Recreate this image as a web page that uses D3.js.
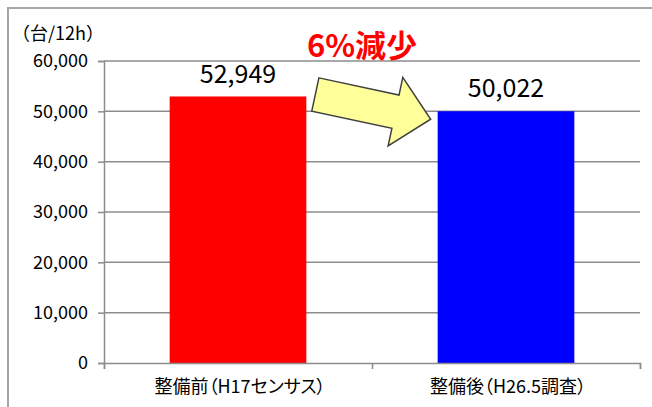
<!DOCTYPE html>
<html>
<head>
<meta charset="utf-8">
<script src="https://cdn.jsdelivr.net/npm/d3@7"></script>
<style>
  body { margin: 0; background: #fff; }
  svg text { font-family: "Noto Sans CJK JP", "Noto Sans", sans-serif; }
</style>
</head>
<body>
<div id="chart"></div>
<script>
// データ
const categories = ["整備前（H17センサス）", "整備後（H26.5調査）"];
const values = [52949, 50022];
const barColors = ["#ff0000", "#0000ff"];
const yTicks = [0, 10000, 20000, 30000, 40000, 50000, 60000];
const unitLabel = "（台/12h）";
const changeLabel = "6%減少";

const W = 652, H = 407;
const margin = { top: 61, right: 12, bottom: 44, left: 104 };
const width = W - margin.left - margin.right;
const height = H - margin.top - margin.bottom;

const svg = d3.select("#chart").append("svg")
    .attr("width", W)
    .attr("height", H);

svg.append("rect").attr("width", W).attr("height", H).attr("fill", "#fff");

// 外枠
svg.append("path")
    .attr("d", `M8,${H} L8,8 L${W},8`)
    .attr("fill", "none")
    .attr("stroke", "#a6a6a6")
    .attr("stroke-width", 2);

const g = svg.append("g").attr("transform", `translate(${margin.left},${margin.top})`);

const x = d3.scaleBand().domain(categories).range([0, width]).paddingInner(0.49).paddingOuter(0.245);
const xTicks = d3.scalePoint().domain(d3.range(categories.length + 1)).range([0, width]);
const y = d3.scaleLinear().domain([0, 60000]).range([height, 0]);

// グリッド線
g.append("g")
    .selectAll("line")
    .data(yTicks.filter(d => d > 0))
    .join("line")
    .attr("x1", 0).attr("x2", width)
    .attr("y1", d => y(d)).attr("y2", d => y(d))
    .attr("stroke", "#8c8c8c")
    .attr("stroke-width", 1.5);

// 棒
g.selectAll("rect.bar")
    .data(values)
    .join("rect")
    .attr("class", "bar")
    .attr("x", (d, i) => x(categories[i]))
    .attr("y", d => y(d))
    .attr("width", x.bandwidth())
    .attr("height", d => height - y(d))
    .attr("fill", (d, i) => barColors[i]);

// Y軸
const yAxis = g.append("g")
    .call(d3.axisLeft(y).tickValues(yTicks).tickSize(6).tickPadding(10).tickFormat(d3.format(",")));
yAxis.select(".domain").attr("stroke", "#8c8c8c").attr("stroke-width", 1.5);
yAxis.selectAll(".tick line").attr("stroke", "#8c8c8c").attr("stroke-width", 1.5);
yAxis.selectAll("text").attr("fill", "#000").style("font-size", "18px");

// X軸
const xAxis = g.append("g")
    .attr("transform", `translate(0,${height})`)
    .call(d3.axisBottom(xTicks).tickSize(6).tickFormat(""));
xAxis.select(".domain").attr("stroke", "#8c8c8c").attr("stroke-width", 1.5);
xAxis.selectAll(".tick line").attr("stroke", "#8c8c8c").attr("stroke-width", 1.5);

g.selectAll("text.cat")
    .data(categories)
    .join("text")
    .attr("class", "cat")
    .attr("x", d => x(d) + x.bandwidth() / 2 + 2)
    .attr("y", height + 30)
    .attr("text-anchor", "middle")
    .attr("fill", "#000")
    .style("font-size", "18px")
    .style("font-feature-settings", "'palt'")
    .text(d => d);

// 値ラベル
g.selectAll("text.val")
    .data(values)
    .join("text")
    .attr("class", "val")
    .attr("x", (d, i) => x(categories[i]) + x.bandwidth() / 2)
    .attr("y", d => y(d) - 14)
    .attr("text-anchor", "middle")
    .attr("fill", "#000")
    .style("font-size", "25px")
    .text(d => d3.format(",")(d));

// 単位
svg.append("text")
    .attr("x", 12)
    .attr("y", 40)
    .attr("fill", "#000")
    .style("font-size", "18px")
    .text(unitLabel);

// 矢印
const x0 = x(categories[0]) + x.bandwidth() + 9;
const y0 = y(values[0]) - 2;
const x1 = x(categories[1]) - 7;
const y1 = y(values[1]) + 8;
const len = Math.hypot(x1 - x0, y1 - y0);
const ang = Math.atan2(y1 - y0, x1 - x0) * 180 / Math.PI;
const headLen = 36, shaftW = 17, headW = 35;
svg.append("path")
    .attr("transform", `translate(${margin.left + x0},${margin.top + y0}) rotate(${ang})`)
    .attr("d", `M0,${-shaftW} L${len - headLen},${-shaftW} L${len - headLen},${-headW} L${len},0 L${len - headLen},${headW} L${len - headLen},${shaftW} L0,${shaftW} Z`)
    .attr("fill", "#ffff99")
    .attr("stroke", "#404040")
    .attr("stroke-width", 1.5)
    .attr("stroke-linejoin", "miter");

// 減少率
svg.append("text")
    .attr("x", 362)
    .attr("y", 57)
    .attr("text-anchor", "middle")
    .attr("fill", "#ff0000")
    .style("font-size", "31px")
    .style("font-weight", "bold")
    .text(changeLabel);
</script>
</body>
</html>
